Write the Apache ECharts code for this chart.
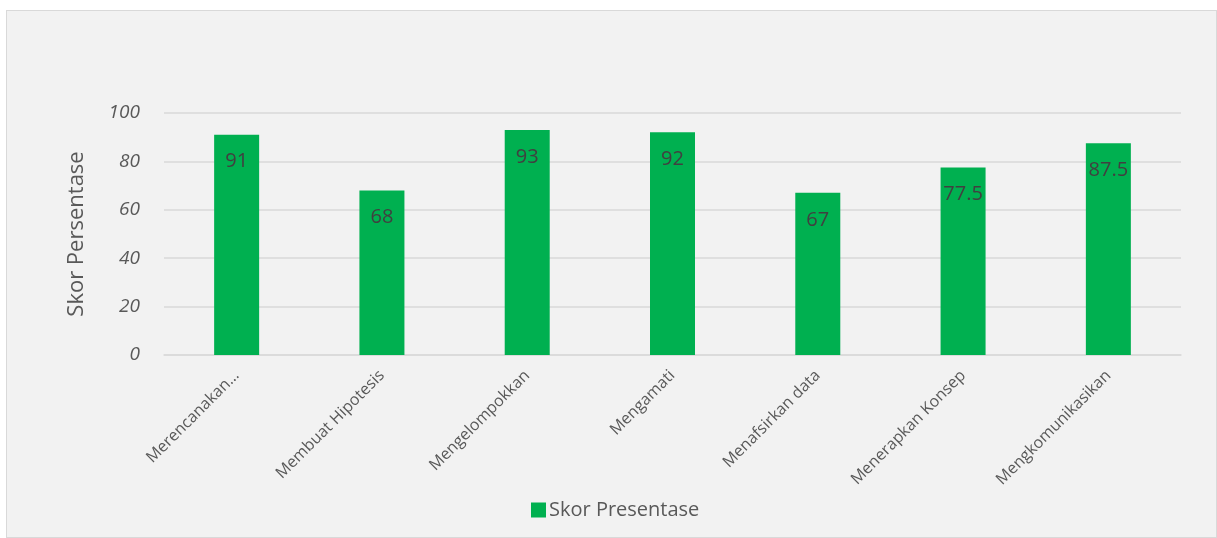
<!DOCTYPE html>
<html><head><meta charset="utf-8">
<script src="https://cdn.jsdelivr.net/npm/echarts@6/dist/echarts.min.js"></script>
<style>
html,body{margin:0;padding:0;background:#fff;}
#frame{position:absolute;left:6px;top:10px;width:1211px;height:528px;background:#f2f2f2;border:1px solid #d9d9d9;box-sizing:border-box;}
#c{width:1211px;height:528px;}
</style></head>
<body>
<div id="frame"><div id="c"></div></div>
<script>
const categories = ["Merencanakan…","Membuat Hipotesis","Mengelompokkan","Mengamati","Menafsirkan data","Menerapkan Konsep","Mengkomunikasikan"];
const values = [91, 68, 93, 92, 67, 77.5, 87.5];
const seriesName = "Skor Presentase";
const axisTitle = "Skor Persentase";

const chart = echarts.init(document.getElementById('c'));
const font = "'Open Sans', 'Noto Sans', sans-serif";
chart.setOption({
  backgroundColor: 'transparent',
  animation: false,
  grid: {left: 157, right: 37, top: 102, bottom: 184},
  legend: {
    data: [seriesName], left: 519, top: 484, itemWidth: 15, itemHeight: 15, itemGap: 4,
    icon: 'rect',
    textStyle: {color: '#595959', fontSize: 20, fontFamily: font, padding:[0,0,0,-2]}
  },
  xAxis: {
    type: 'category', data: categories,
    axisLine: {show: true, lineStyle: {color: '#d9d9d9', width: 1.5}},
    axisTick: {show: false},
    axisLabel: {rotate: 45, color: '#595959', fontSize: 16, fontFamily: font, margin: 18, interval: 0}
  },
  yAxis: {
    type: 'value', min: 0, max: 100, interval: 20,
    name: axisTitle, nameLocation: 'middle', nameGap: 76, nameRotate: 90,
    nameTextStyle: {color: '#595959', fontSize: 22, fontFamily: font},
    axisLine: {show: false}, axisTick: {show: false},
    axisLabel: {color: '#595959', fontSize: 19, fontStyle: 'italic', fontFamily: font, margin: 24},
    splitLine: {lineStyle: {color: '#d9d9d9', width: 1.5}}
  },
  series: [{
    name: seriesName, type: 'bar', data: values, barWidth: 45,
    itemStyle: {color: '#00b050'},
    label: {show: true, position: 'insideTop', distance: 17, color: '#404040', fontSize: 20, fontFamily: font}
  }]
});
</script>
</body></html>
